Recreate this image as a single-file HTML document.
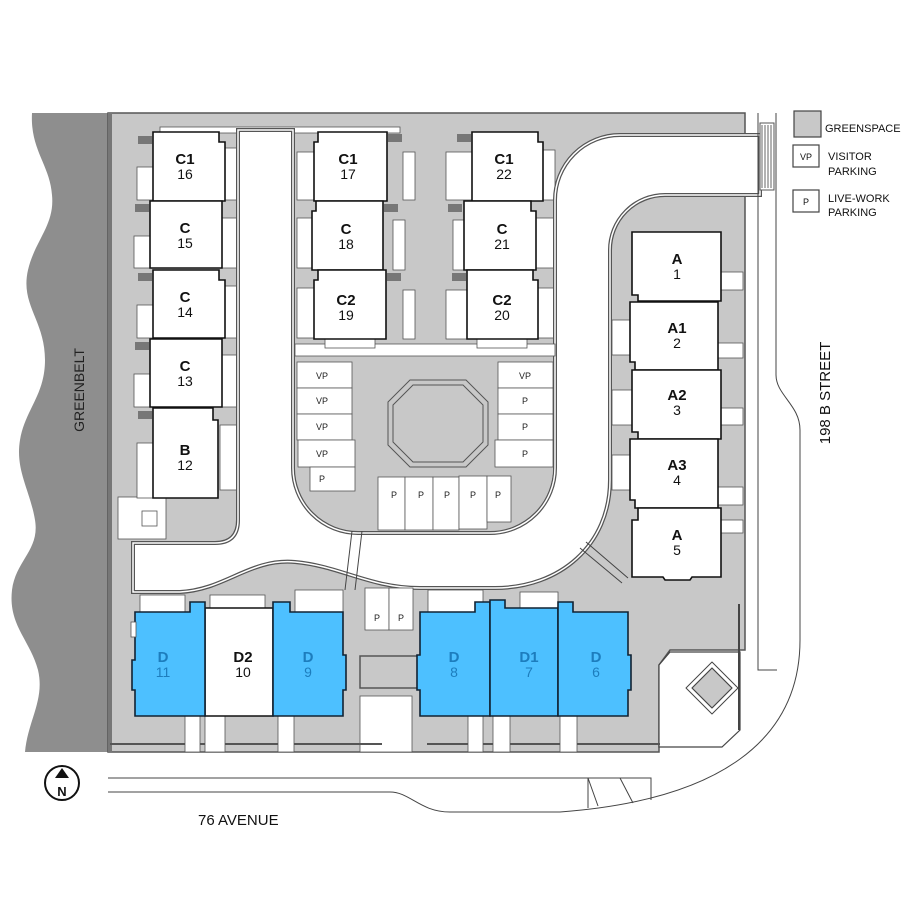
<!DOCTYPE html>
<html><head><meta charset="utf-8"><style>
html,body{margin:0;padding:0;background:#fff}
svg{display:block}
text{font-family:"Liberation Sans",sans-serif}
.b{fill:#fff;stroke:#111;stroke-width:1.6}
.d{fill:#4dc0ff;stroke:#123;stroke-width:1.6}
.w{fill:#fff;stroke:#555;stroke-width:0.8}
.lb{font-size:15px;font-weight:bold;text-anchor:middle;fill:#111}
.nm{font-size:14px;text-anchor:middle;fill:#111}
.lbd{font-size:15px;font-weight:bold;text-anchor:middle;fill:#1d7dbd}
.nmd{font-size:14px;text-anchor:middle;fill:#1d7dbd}
.pk{font-size:9px;text-anchor:middle;fill:#222}
.ln{fill:none;stroke:#444;stroke-width:1}
.r1{fill:#fff;stroke:#555;stroke-width:4}
.r2{fill:none;stroke:#fff;stroke-width:1.5}
</style></head><body>
<svg width="915" height="915" viewBox="0 0 915 915" xmlns="http://www.w3.org/2000/svg">
<path d="M32,113 L108,113 L108,752 L25,752 C28,720 45,700 38,670 C30,640 8,625 12,590 C16,560 40,550 35,520 C30,490 15,470 20,440 C25,410 45,395 45,360 C45,320 20,305 28,270 C35,240 55,225 52,195 C50,165 30,150 32,113 Z" fill="#8e8e8e"/>
<text transform="translate(84,390) rotate(-90)" font-size="14" text-anchor="middle" fill="#222">GREENBELT</text>
<path d="M108,113 L745,113 L745,650 L670,650 L659,665 L659,752 L108,752 Z" fill="#c8c8c8" stroke="#555" stroke-width="1.5"/>
<rect x="108" y="113" width="4" height="639" fill="#777"/>
<rect x="160" y="127" width="240" height="6" class="w"/>
<path d="M659,665 L670,652 L740,652 L740,730 L722,747 L659,747 Z" fill="#fff" stroke="#444" stroke-width="1.2"/>
<path d="M712,668 L732,688 L712,708 L692,688 Z" fill="#c8c8c8" stroke="#444" stroke-width="1.2" stroke-linejoin="round"/>
<path d="M712,662 L738,688 L712,714 L686,688 Z" fill="none" stroke="#444" stroke-width="1" stroke-linejoin="round"/>
<line x1="739" y1="604" x2="739" y2="730" stroke="#444" stroke-width="2"/>
<g class="w">
<rect x="222" y="148" width="16" height="52"/><rect x="222" y="218" width="16" height="50"/><rect x="222" y="286" width="16" height="52"/><rect x="222" y="355" width="16" height="52"/><rect x="220" y="425" width="18" height="65"/>
<rect x="118" y="497" width="48" height="42"/><rect x="142" y="511" width="15" height="15"/>
<rect x="297" y="152" width="17" height="48"/><rect x="297" y="218" width="15" height="50"/><rect x="297" y="288" width="17" height="50"/>
<rect x="543" y="150" width="12" height="50"/><rect x="536" y="218" width="19" height="50"/><rect x="538" y="288" width="17" height="50"/>
<rect x="720" y="272" width="23" height="18"/><rect x="718" y="343" width="25" height="15"/><rect x="721" y="408" width="22" height="17"/><rect x="718" y="487" width="25" height="18"/><rect x="721" y="520" width="22" height="13"/>
<rect x="612" y="320" width="18" height="35"/><rect x="612" y="390" width="20" height="35"/><rect x="612" y="455" width="18" height="35"/>
</g>
<path class="r1" d="M238,130 L293,130 L293,468 A65,65 0 0 0 358,533 L490,533 A65,65 0 0 0 555,468 L555,200 A65,65 0 0 1 620,135 L760,135 L760,195 L665,195 A55,55 0 0 0 610,250 L610,480 C610,545 560,588 495,588 L420,588 C370,588 340,566 295,562 C250,558 225,590 180,592 L133,592 L133,543 L215,543 Q238,543 238,520 Z"/>
<path class="r2" d="M238,130 L293,130 L293,468 A65,65 0 0 0 358,533 L490,533 A65,65 0 0 0 555,468 L555,200 A65,65 0 0 1 620,135 L760,135 L760,195 L665,195 A55,55 0 0 0 610,250 L610,480 C610,545 560,588 495,588 L420,588 C370,588 340,566 295,562 C250,558 225,590 180,592 L133,592 L133,543 L215,543 Q238,543 238,520 Z"/>
<path d="M297,356 L553,356 L553,468 A61,61 0 0 1 492,529 L358,529 A61,61 0 0 1 297,468 Z" fill="#c8c8c8"/>
<rect x="295" y="344" width="260" height="12" class="w"/>
<path d="M410,380 L466,380 L488,402 L488,445 L466,467 L410,467 L388,445 L388,402 Z" fill="#c8c8c8" stroke="#555" stroke-width="1" stroke-linejoin="round"/>
<path d="M413,385 L463,385 L483,405 L483,442 L463,462 L413,462 L393,442 L393,405 Z" fill="none" stroke="#555" stroke-width="1" stroke-linejoin="round"/>
<g class="w">
<rect x="297" y="362" width="55" height="26"/><rect x="297" y="388" width="55" height="26"/><rect x="297" y="414" width="55" height="26"/><rect x="298" y="440" width="57" height="27"/><rect x="310" y="467" width="45" height="24"/>
<rect x="498" y="362" width="55" height="26"/><rect x="498" y="388" width="55" height="26"/><rect x="498" y="414" width="55" height="26"/><rect x="495" y="440" width="58" height="27"/>
<rect x="378" y="477" width="27" height="53"/><rect x="405" y="477" width="28" height="53"/><rect x="433" y="477" width="26" height="53"/><rect x="459" y="476" width="28" height="53"/><rect x="487" y="476" width="24" height="46"/>
<rect x="365" y="588" width="24" height="42"/><rect x="389" y="588" width="24" height="42"/>
</g>
<g class="pk">
<text x="322" y="379">VP</text><text x="322" y="404">VP</text><text x="322" y="430">VP</text><text x="322" y="457">VP</text><text x="322" y="482">P</text>
<text x="525" y="379">VP</text><text x="525" y="404">P</text><text x="525" y="430">P</text><text x="525" y="457">P</text>
<text x="394" y="498">P</text><text x="421" y="498">P</text><text x="447" y="498">P</text><text x="473" y="498">P</text><text x="498" y="498">P</text>
<text x="377" y="621">P</text><text x="401" y="621">P</text>
</g>
<path d="M352,531 L345,590 M362,531 L355,590" class="ln" stroke-width="0.8"/>
<path d="M580,548 L622,583 M586,542 L628,578" class="ln" stroke-width="0.8"/>
<rect x="360" y="656" width="58" height="32" fill="#c8c8c8" stroke="#555" stroke-width="1.5"/>
<rect x="360" y="696" width="52" height="56" class="w"/>
<line x1="110" y1="744" x2="382" y2="744" stroke="#555" stroke-width="2"/>
<line x1="427" y1="744" x2="660" y2="744" stroke="#555" stroke-width="2"/>
<g class="w">
<rect x="185" y="716" width="15" height="36"/><rect x="205" y="716" width="20" height="36"/><rect x="278" y="716" width="16" height="36"/><rect x="468" y="716" width="15" height="36"/><rect x="493" y="716" width="17" height="36"/><rect x="560" y="716" width="17" height="36"/>
<rect x="140" y="595" width="45" height="17"/><rect x="210" y="595" width="55" height="13"/><rect x="295" y="590" width="48" height="22"/><rect x="428" y="590" width="55" height="22"/><rect x="520" y="592" width="38" height="16"/>
</g>
<g class="w"><rect x="137" y="167" width="16" height="33"/><rect x="134" y="236" width="16" height="32"/><rect x="137" y="305" width="16" height="33"/><rect x="134" y="374" width="16" height="33"/><rect x="137" y="443" width="16" height="55"/>
<rect x="403" y="152" width="12" height="48"/><rect x="393" y="220" width="12" height="50"/><rect x="403" y="290" width="12" height="49"/>
<rect x="446" y="152" width="26" height="48"/><rect x="453" y="220" width="11" height="50"/><rect x="446" y="290" width="21" height="49"/>
<rect x="325" y="339" width="50" height="9"/><rect x="477" y="339" width="50" height="9"/></g>
<g fill="#777"><rect x="138" y="136" width="14" height="8"/><rect x="135" y="204" width="14" height="8"/><rect x="138" y="273" width="14" height="8"/><rect x="135" y="342" width="14" height="8"/><rect x="138" y="411" width="14" height="8"/>
<rect x="388" y="134" width="14" height="8"/><rect x="384" y="204" width="14" height="8"/><rect x="387" y="273" width="14" height="8"/><rect x="457" y="134" width="14" height="8"/><rect x="448" y="204" width="14" height="8"/><rect x="452" y="273" width="14" height="8"/></g>
<g class="b">
<path d="M153,132 L219,132 L219,142 L225,142 L225,201 L153,201 Z"/>
<path d="M150,201 L222,201 L222,268 L150,268 Z"/>
<path d="M153,270 L219,270 L219,280 L225,280 L225,338 L153,338 Z"/>
<path d="M150,339 L222,339 L222,407 L150,407 Z"/>
<path d="M153,408 L213,408 L213,420 L218,420 L218,498 L153,498 Z"/>
<path d="M318,132 L387,132 L387,201 L314,201 L314,142 L318,142 Z"/>
<path d="M316,201 L383,201 L383,270 L312,270 L312,211 L316,211 Z"/>
<path d="M318,270 L386,270 L386,339 L314,339 L314,280 L318,280 Z"/>
<path d="M472,132 L538,132 L538,142 L543,142 L543,201 L472,201 Z"/>
<path d="M464,201 L531,201 L531,211 L536,211 L536,270 L464,270 Z"/>
<path d="M467,270 L533,270 L533,280 L538,280 L538,339 L467,339 Z"/>
<path d="M632,232 L721,232 L721,301 L638,301 L638,295 L632,295 Z"/>
<path d="M630,302 L718,302 L718,370 L635,370 L635,362 L630,362 Z"/>
<path d="M632,370 L721,370 L721,439 L638,439 L638,432 L632,432 Z"/>
<path d="M630,439 L718,439 L718,508 L635,508 L635,500 L630,500 Z"/>
<path d="M638,508 L721,508 L721,577 L692,577 L690,580 L665,580 L663,577 L632,577 L632,520 L638,520 Z"/>
<path d="M205,612 L205,608 L273,608 L273,716 L205,716 Z"/>
</g>
<g class="d">
<path d="M135,612 L190,612 L190,602 L205,602 L205,716 L135,716 L135,690 L132,690 L132,660 L135,660 Z"/>
<path d="M273,612 L273,602 L290,602 L290,612 L343,612 L343,655 L346,655 L346,690 L343,690 L343,716 L273,716 Z"/>
<path d="M420,612 L475,612 L475,602 L490,602 L490,716 L420,716 L420,690 L417,690 L417,655 L420,655 Z"/>
<path d="M490,608 L490,600 L505,600 L505,608 L558,608 L558,716 L490,716 Z"/>
<path d="M558,612 L558,602 L573,602 L573,612 L628,612 L628,655 L631,655 L631,690 L628,690 L628,716 L558,716 Z"/>
</g>
<rect x="131" y="622" width="5" height="15" class="w"/>
<text class="lb" x="185" y="164">C1</text><text class="nm" x="185" y="179">16</text>
<text class="lb" x="185" y="233">C</text><text class="nm" x="185" y="248">15</text>
<text class="lb" x="185" y="302">C</text><text class="nm" x="185" y="317">14</text>
<text class="lb" x="185" y="371">C</text><text class="nm" x="185" y="386">13</text>
<text class="lb" x="185" y="455">B</text><text class="nm" x="185" y="470">12</text>
<text class="lb" x="348" y="164">C1</text><text class="nm" x="348" y="179">17</text>
<text class="lb" x="346" y="234">C</text><text class="nm" x="346" y="249">18</text>
<text class="lb" x="346" y="305">C2</text><text class="nm" x="346" y="320">19</text>
<text class="lb" x="504" y="164">C1</text><text class="nm" x="504" y="179">22</text>
<text class="lb" x="502" y="234">C</text><text class="nm" x="502" y="249">21</text>
<text class="lb" x="502" y="305">C2</text><text class="nm" x="502" y="320">20</text>
<text class="lb" x="677" y="264">A</text><text class="nm" x="677" y="279">1</text>
<text class="lb" x="677" y="333">A1</text><text class="nm" x="677" y="348">2</text>
<text class="lb" x="677" y="400">A2</text><text class="nm" x="677" y="415">3</text>
<text class="lb" x="677" y="470">A3</text><text class="nm" x="677" y="485">4</text>
<text class="lb" x="677" y="540">A</text><text class="nm" x="677" y="555">5</text>
<text class="lbd" x="163" y="662">D</text><text class="nmd" x="163" y="677">11</text>
<text class="lb" x="243" y="662">D2</text><text class="nm" x="243" y="677">10</text>
<text class="lbd" x="308" y="662">D</text><text class="nmd" x="308" y="677">9</text>
<text class="lbd" x="454" y="662">D</text><text class="nmd" x="454" y="677">8</text>
<text class="lbd" x="529" y="662">D1</text><text class="nmd" x="529" y="677">7</text>
<text class="lbd" x="596" y="662">D</text><text class="nmd" x="596" y="677">6</text>
<path d="M758,113 L758,670 L777,670" class="ln"/>
<path d="M776,113 L776,375 C776,395 800,405 800,430 L800,640 C800,740 720,800 560,812 L450,812 C420,812 410,792 390,792 L108,792" class="ln"/>
<path d="M108,778 L651,778 L651,800" class="ln"/>
<path d="M588,778 L588,808 M588,778 L598,806 M620,778 L633,803" class="ln" stroke-width="0.8"/>
<rect x="760" y="123" width="14" height="67" fill="#fff" stroke="#555"/>
<path d="M762,125V188M765,125V188M768,125V188M771,125V188" stroke="#666" stroke-width="1"/>
<text transform="translate(830,393) rotate(-90)" font-size="15" text-anchor="middle" fill="#111">198 B STREET</text>
<text x="198" y="825" font-size="15" fill="#111">76 AVENUE</text>
<circle cx="62" cy="783" r="17" fill="#fff" stroke="#111" stroke-width="2"/>
<path d="M62,768 L69,778 L55,778 Z" fill="#111"/>
<text x="62" y="796" font-size="13" font-weight="bold" text-anchor="middle" fill="#111">N</text>
<rect x="794" y="111" width="27" height="26" fill="#c8c8c8" stroke="#444" stroke-width="1.2"/>
<text x="825" y="132" font-size="11" fill="#111">GREENSPACE</text>
<rect x="793" y="145" width="26" height="22" fill="#fff" stroke="#444" stroke-width="1.2"/>
<text x="806" y="160" font-size="9" text-anchor="middle" fill="#111">VP</text>
<text x="828" y="160" font-size="11" fill="#111">VISITOR</text><text x="828" y="175" font-size="11" fill="#111">PARKING</text>
<rect x="793" y="190" width="26" height="22" fill="#fff" stroke="#444" stroke-width="1.2"/>
<text x="806" y="205" font-size="9" text-anchor="middle" fill="#111">P</text>
<text x="828" y="202" font-size="11" fill="#111">LIVE-WORK</text><text x="828" y="216" font-size="11" fill="#111">PARKING</text>
</svg>
</body></html>
